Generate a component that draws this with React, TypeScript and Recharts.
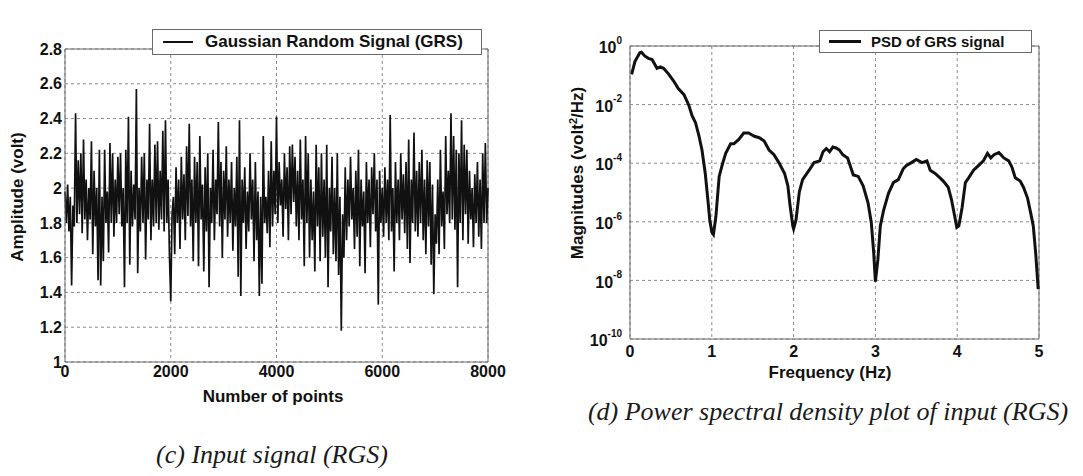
import React from 'react';
import { LineChart, Line, XAxis, YAxis, CartesianGrid, Legend, ReferenceLine } from 'recharts';

// (c) input signal, one value every 25 samples
const SAMPLE_STEP = 25;
const amplitude = [
  1.98, 1.8, 2.02, 1.75, 1.95, 1.44, 1.9, 1.78, 2.43, 1.8, 2.16, 1.85, 2.2, 1.74, 2.28, 1.82, 2.05, 1.7, 2.0, 1.82,
  2.27, 1.62, 2.1, 1.78, 2.0, 1.47, 2.22, 1.44, 1.95, 1.58, 2.22, 1.8, 1.98, 1.63, 2.26, 1.8, 2.2, 1.72, 2.05, 1.8,
  2.18, 1.85, 2.2, 1.78, 2.0, 1.43, 2.22, 1.8, 2.41, 1.56, 2.1, 1.78, 2.02, 1.82, 2.57, 1.51, 2.0, 1.75, 2.18, 1.8,
  2.2, 1.59, 2.05, 1.82, 2.37, 1.7, 2.05, 1.78, 2.25, 1.8, 2.27, 1.76, 2.1, 1.82, 2.33, 1.75, 2.39, 1.8, 2.05, 1.62,
  1.35, 1.85, 1.95, 1.62, 2.12, 1.8, 2.05, 1.65, 2.18, 1.82, 2.08, 1.7, 2.24, 1.84, 2.37, 1.78, 2.05, 1.58, 2.18, 1.8,
  2.15, 1.55, 2.3, 1.82, 2.02, 1.52, 2.12, 1.75, 2.2, 1.43, 2.0, 1.8, 2.22, 1.7, 2.05, 1.85, 2.38, 1.78, 2.15, 1.6,
  2.1, 1.82, 2.24, 1.72, 2.05, 1.8, 2.15, 1.64, 2.0, 1.78, 2.18, 1.49, 2.39, 1.38, 2.05, 1.8, 2.12, 1.65, 1.98, 1.75,
  2.2, 1.82, 2.05, 1.58, 2.15, 1.7, 1.98, 1.38, 1.95, 1.45, 2.3, 1.8, 1.95, 1.74, 2.1, 1.66, 2.27, 1.78, 2.1, 1.85,
  2.41, 1.8, 2.15, 1.9, 2.05, 1.72, 2.2, 1.88, 2.12, 1.7, 2.24, 1.85, 2.25, 1.92, 2.18, 1.78, 2.1, 1.7, 2.28, 1.82,
  2.05, 1.55, 2.3, 1.8, 2.2, 1.6, 2.05, 1.7, 1.98, 1.52, 2.25, 1.78, 2.12, 1.58, 2.2, 1.72, 2.05, 1.6, 2.25, 1.43,
  2.0, 1.75, 2.18, 1.62, 2.0, 1.58, 2.2, 1.5, 1.95, 1.18, 1.85, 1.6, 2.12, 1.7, 2.05, 1.78, 2.18, 1.82, 2.0, 1.65,
  2.1, 1.72, 2.22, 1.55, 2.05, 1.78, 1.98, 1.51, 2.15, 1.8, 2.05, 1.66, 2.12, 1.85, 2.2, 1.75, 2.05, 1.33, 2.1, 1.8,
  2.0, 1.72, 2.12, 1.8, 2.05, 1.7, 2.42, 1.75, 2.0, 1.52, 2.15, 1.8, 2.05, 1.7, 2.2, 1.82, 2.08, 1.74, 2.15, 1.65,
  2.28, 1.57, 2.05, 1.8, 2.32, 1.75, 2.1, 1.72, 2.15, 1.8, 2.22, 1.7, 2.05, 1.62, 2.16, 1.78, 2.15, 1.56, 2.02, 1.39,
  1.85, 1.68, 2.05, 1.62, 2.22, 1.78, 1.98, 1.65, 2.3, 1.85, 2.1, 1.8, 2.43, 1.82, 2.3, 1.76, 2.22, 1.43, 2.2, 1.8,
  2.39, 1.7, 2.25, 1.85, 2.22, 1.68, 2.1, 1.82, 2.0, 1.66, 2.08, 1.8, 2.15, 1.72, 2.05, 1.65, 2.2, 1.8, 2.26, 1.8,
  2.0,
];
const pointTicks = [0, 2000, 4000, 6000, 8000];
const amplitudeTicks = [1, 1.2, 1.4, 1.6, 1.8, 2, 2.2, 2.4, 2.6, 2.8];

// (d) PSD, frequency in Hz and log10 of magnitude
const frequency = [
  0.02, 0.06, 0.12, 0.14, 0.18, 0.225, 0.27, 0.33, 0.37, 0.41, 0.47, 0.53, 0.59, 0.66, 0.72, 0.76, 0.8, 0.84, 0.88,
  0.92, 0.95, 0.975, 1.0, 1.02, 1.05, 1.09, 1.13, 1.17, 1.23, 1.27, 1.33, 1.39, 1.45, 1.52, 1.58, 1.64, 1.7, 1.76,
  1.82, 1.89, 1.93, 1.955, 1.99, 2.0, 2.03, 2.07, 2.11, 2.15, 2.19, 2.25, 2.32, 2.36, 2.4, 2.44, 2.48, 2.52, 2.56,
  2.6, 2.66, 2.73, 2.79, 2.85, 2.91, 2.95, 2.98, 3.0, 3.03, 3.06, 3.1, 3.16, 3.22, 3.28, 3.34, 3.38, 3.44, 3.5,
  3.57, 3.63, 3.67, 3.73, 3.79, 3.83, 3.89, 3.93, 3.97, 3.995, 4.02, 4.06, 4.1, 4.14, 4.2, 4.26, 4.32, 4.37, 4.41,
  4.45, 4.51, 4.57, 4.63, 4.67, 4.71, 4.77, 4.81, 4.86, 4.9, 4.93, 4.96, 4.99,
];
const psdExponent = [
  -0.97, -0.53, -0.23, -0.21, -0.34, -0.42, -0.46, -0.76, -0.71, -0.76, -0.95, -1.18, -1.45, -1.66, -2.03, -2.39,
  -2.61, -3.03, -3.55, -4.35, -5.19, -5.93, -6.35, -6.43, -5.82, -4.45, -4.03, -3.66, -3.34, -3.34, -3.19, -2.97,
  -2.97, -3.08, -3.13, -3.24, -3.55, -3.71, -3.98, -4.35, -4.77, -5.4, -6.14, -6.24, -5.93, -4.98, -4.56, -4.4,
  -4.24, -3.98, -3.92, -3.61, -3.5, -3.61, -3.45, -3.48, -3.55, -3.71, -3.82, -4.4, -4.45, -4.77, -5.35, -6.03,
  -7.09, -8.04, -7.3, -6.14, -5.61, -5.03, -4.66, -4.56, -4.19, -4.08, -3.98, -3.87, -3.98, -3.92, -4.24, -4.35,
  -4.5, -4.61, -4.82, -5.24, -5.82, -6.19, -6.14, -5.51, -4.66, -4.5, -4.24, -4.08, -3.92, -3.66, -3.82, -3.71,
  -3.64, -3.82, -3.92, -4.14, -4.5, -4.61, -4.82, -5.19, -5.72, -6.14, -7.09, -8.3,
];
const frequencyTicks = [0, 1, 2, 3, 4, 5];
const psdTicks = [1, 1e-2, 1e-4, 1e-6, 1e-8, 1e-10];

const signalData = amplitude.map((v, i) => ({ n: i * SAMPLE_STEP, v }));
const psdData = frequency.map((f, i) => ({ f, p: Math.pow(10, psdExponent[i]) }));

const SANS = '"Liberation Sans", Arial, sans-serif';
const INK = '#111';
const GRID = '#8a8a8a';
const FRAME = '#6a6a6a';

function PowerTick({ x, y, payload }: any) {
  const e = Math.round(Math.log10(payload.value));
  return (
    <text x={x} y={y} textAnchor="end" fontFamily={SANS} fontWeight="bold" fill={INK}>
      <tspan fontSize={16} dy="0.45em">10</tspan>
      <tspan fontSize={10} dy="-0.95em">{e}</tspan>
    </text>
  );
}

function LegendBox({ label, lineWidth, fontSize, padLeft, sample, gap }: any) {
  return (
    <div
      style={{
        boxSizing: 'border-box',
        border: `1px solid ${FRAME}`,
        background: '#fff',
        display: 'flex',
        alignItems: 'center',
        height: '100%',
        paddingLeft: padLeft,
        fontFamily: SANS,
        fontWeight: 'bold',
        fontSize,
        color: INK,
        whiteSpace: 'nowrap',
      }}
    >
      <span style={{ display: 'inline-block', width: sample, borderTop: `${lineWidth}px solid ${INK}`, marginRight: gap }} />
      <span>{label}</span>
    </div>
  );
}

const axisTitle = (x: number, y: number, rotate: boolean): React.CSSProperties => ({
  position: 'absolute',
  left: x,
  top: y,
  transform: `translate(-50%, -50%)${rotate ? ' rotate(-90deg)' : ''}`,
  fontFamily: SANS,
  fontWeight: 'bold',
  fontSize: 17,
  lineHeight: 1,
  color: INK,
  whiteSpace: 'nowrap',
});

const caption = (x: number, y: number): React.CSSProperties => ({
  position: 'absolute',
  left: x,
  top: y,
  transform: 'translate(-50%, -50%)',
  fontFamily: '"Liberation Serif", "Times New Roman", serif',
  fontStyle: 'italic',
  fontSize: 26,
  color: '#1a1a1a',
  whiteSpace: 'nowrap',
});

export default function App() {
  const tickStyle = { fontSize: 16, fontWeight: 'bold', fill: INK, fontFamily: SANS };
  return (
    <div style={{ position: 'absolute', left: 0, top: 0, width: 1083, height: 476, background: '#fff', overflow: 'hidden' }}>
      <div style={{ position: 'absolute', left: 0, top: 0 }}>
        <LineChart width={520} height={400} data={signalData} margin={{ top: 23, right: 32, bottom: 0, left: 0 }}>
          <CartesianGrid stroke={GRID} strokeDasharray="3 3" />
          <XAxis
            dataKey="n"
            type="number"
            domain={[0, 8000]}
            ticks={pointTicks}
            height={38}
            tickSize={0}
            tickMargin={4}
            tick={tickStyle}
            axisLine={{ stroke: FRAME }}
          />
          <YAxis
            type="number"
            domain={[1, 2.8]}
            ticks={amplitudeTicks}
            width={65}
            tickSize={0}
            tickMargin={3}
            tick={tickStyle}
            axisLine={{ stroke: FRAME }}
            allowDataOverflow
          />
          <ReferenceLine y={2.8} stroke={FRAME} />
          <ReferenceLine x={8000} stroke={FRAME} />
          <Legend
            verticalAlign="top"
            wrapperStyle={{ position: 'absolute', left: 152, top: 29, width: 330, height: 26 }}
            content={() => (
              <LegendBox label="Gaussian Random Signal (GRS)" lineWidth={2} fontSize={17} padLeft={10} sample={30} gap={12} />
            )}
          />
          <Line
            type="linear"
            dataKey="v"
            stroke={INK}
            strokeWidth={1.7}
            dot={false}
            isAnimationActive={false}
            name="Gaussian Random Signal (GRS)"
          />
        </LineChart>
      </div>
      <div style={axisTitle(273, 396, false)}>Number of points</div>
      <div style={axisTitle(17, 197, true)}>Amplitude (volt)</div>

      <div style={{ position: 'absolute', left: 540, top: 0 }}>
        <LineChart width={520} height={400} data={psdData} margin={{ top: 23, right: 21, bottom: 0, left: 0 }}>
          <CartesianGrid stroke={GRID} strokeDasharray="3 3" />
          <XAxis
            dataKey="f"
            type="number"
            domain={[0, 5]}
            ticks={frequencyTicks}
            height={61}
            tickSize={0}
            tickMargin={7}
            tick={tickStyle}
            axisLine={{ stroke: FRAME }}
          />
          <YAxis
            type="number"
            scale="log"
            domain={[1e-10, 1]}
            ticks={psdTicks}
            width={90}
            tickSize={0}
            tickMargin={8}
            tick={<PowerTick />}
            axisLine={{ stroke: FRAME }}
            allowDataOverflow
          />
          <ReferenceLine y={1} stroke={FRAME} />
          <ReferenceLine x={5} stroke={FRAME} />
          <Legend
            verticalAlign="top"
            wrapperStyle={{ position: 'absolute', left: 279, top: 30, width: 213, height: 23 }}
            content={() => (
              <LegendBox label="PSD of GRS signal" lineWidth={3} fontSize={15} padLeft={9} sample={32} gap={10} />
            )}
          />
          <Line
            type="linear"
            dataKey="p"
            stroke={INK}
            strokeWidth={3}
            dot={false}
            isAnimationActive={false}
            name="PSD of GRS signal"
          />
        </LineChart>
      </div>
      <div style={axisTitle(830, 372, false)}>Frequency (Hz)</div>
      <div style={axisTitle(577, 173, true)}>
        Magnitudes (volt<sup style={{ fontSize: 11 }}>2</sup>/Hz)
      </div>

      <div style={caption(828, 412)}>(d) Power spectral density plot of input (RGS)</div>
      <div style={caption(272, 455)}>(c) Input signal (RGS)</div>
    </div>
  );
}
